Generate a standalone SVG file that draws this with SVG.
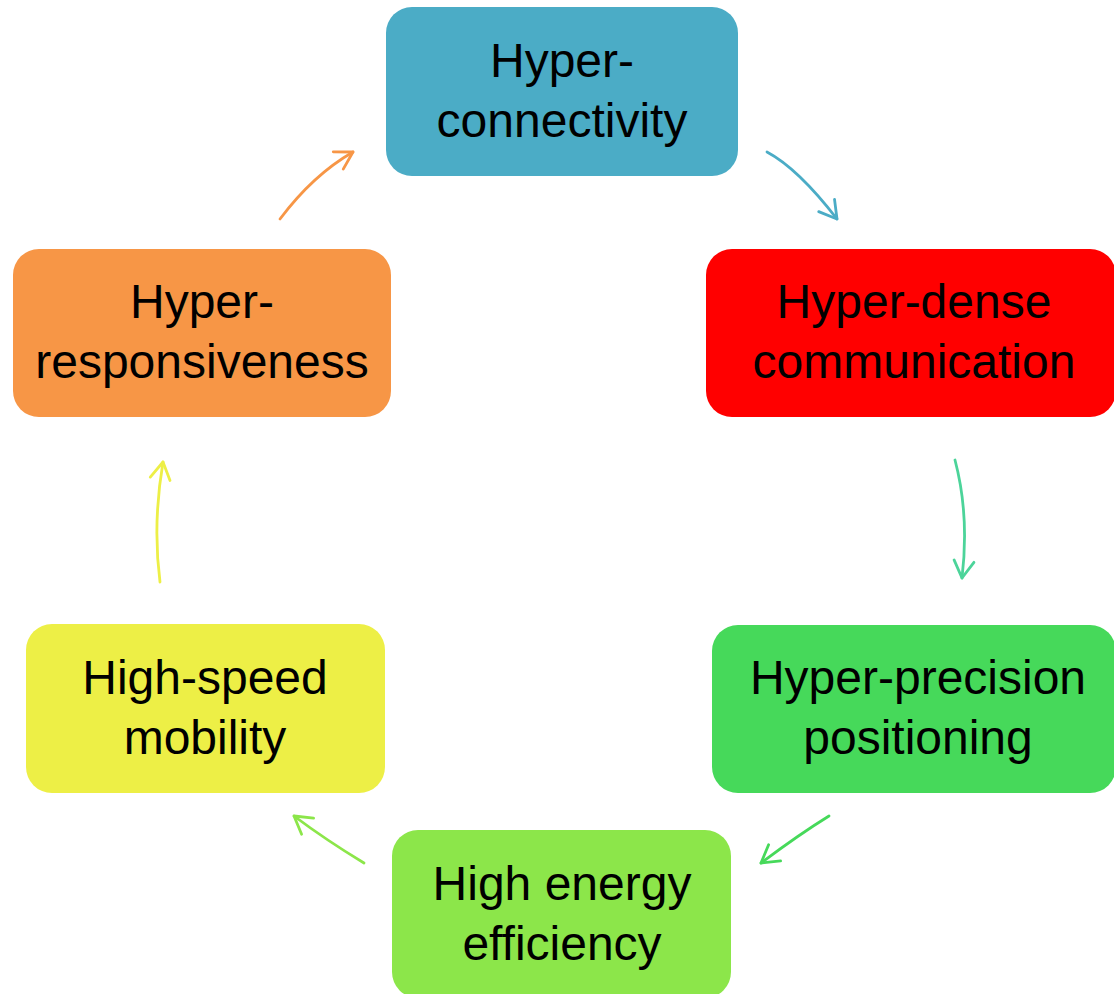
<svg xmlns="http://www.w3.org/2000/svg" width="1114" height="994" viewBox="0 0 1114 994">
<style>
  .box { stroke: none; }
  .lbl { font-family: "Liberation Sans", Arial, sans-serif; font-size: 48px; fill: #000; text-anchor: middle; }
  .conn { fill: none; stroke-width: 2.8; stroke-linecap: round; }
</style>
<defs>
  <marker id="mOrange" markerUnits="userSpaceOnUse" markerWidth="24" markerHeight="24" viewBox="-20 -12 24 24" refX="0" refY="0" orient="auto"><path d="M-17,-10 L0,0 L-17,10" fill="none" stroke="#F79646" stroke-width="2.8" stroke-linecap="round" stroke-linejoin="round"/></marker>
  <marker id="mBlue" markerUnits="userSpaceOnUse" markerWidth="24" markerHeight="24" viewBox="-20 -12 24 24" refX="0" refY="0" orient="auto"><path d="M-17,-10 L0,0 L-17,10" fill="none" stroke="#4BACC6" stroke-width="2.8" stroke-linecap="round" stroke-linejoin="round"/></marker>
  <marker id="mTeal" markerUnits="userSpaceOnUse" markerWidth="24" markerHeight="24" viewBox="-20 -12 24 24" refX="0" refY="0" orient="auto"><path d="M-17,-10 L0,0 L-17,10" fill="none" stroke="#4CD49A" stroke-width="2.8" stroke-linecap="round" stroke-linejoin="round"/></marker>
  <marker id="mGreen" markerUnits="userSpaceOnUse" markerWidth="24" markerHeight="24" viewBox="-20 -12 24 24" refX="0" refY="0" orient="auto"><path d="M-17,-10 L0,0 L-17,10" fill="none" stroke="#46D95A" stroke-width="2.8" stroke-linecap="round" stroke-linejoin="round"/></marker>
  <marker id="mLime" markerUnits="userSpaceOnUse" markerWidth="24" markerHeight="24" viewBox="-20 -12 24 24" refX="0" refY="0" orient="auto"><path d="M-17,-10 L0,0 L-17,10" fill="none" stroke="#8CE64A" stroke-width="2.8" stroke-linecap="round" stroke-linejoin="round"/></marker>
  <marker id="mYellow" markerUnits="userSpaceOnUse" markerWidth="24" markerHeight="24" viewBox="-20 -12 24 24" refX="0" refY="0" orient="auto"><path d="M-17,-10 L0,0 L-17,10" fill="none" stroke="#EDEF46" stroke-width="2.8" stroke-linecap="round" stroke-linejoin="round"/></marker>
</defs>
<rect width="1114" height="994" fill="#FFFFFF"/>
<g id="connectors">
  <path class="conn" d="M280,219 Q313,175 353,152" stroke="#F79646" marker-end="url(#mOrange)"/>
  <path class="conn" d="M767,152 Q798,168.5 837,219" stroke="#4BACC6" marker-end="url(#mBlue)"/>
  <path class="conn" d="M955,460 Q969.5,515 962,578" stroke="#4CD49A" marker-end="url(#mTeal)"/>
  <path class="conn" d="M829,816 Q799,834.5 761,863" stroke="#46D95A" marker-end="url(#mGreen)"/>
  <path class="conn" d="M364,863 Q326,840 294,816" stroke="#8CE64A" marker-end="url(#mLime)"/>
  <path class="conn" d="M160,582 Q152.5,524 163,462" stroke="#EDEF46" marker-end="url(#mYellow)"/>
</g>
<g id="node-hyper-connectivity">
  <rect class="box" x="386" y="7" width="352" height="169" rx="26" fill="#4BACC6"/>
  <text class="lbl" x="562" y="77">Hyper-</text>
  <text class="lbl" x="562" y="137">connectivity</text>
</g>
<g id="node-hyper-dense">
  <rect class="box" x="706" y="249" width="410" height="168" rx="26" fill="#FF0000"/>
  <text class="lbl" x="914" y="318">Hyper-dense</text>
  <text class="lbl" x="914" y="378">communication</text>
</g>
<g id="node-hyper-precision">
  <rect class="box" x="712" y="625" width="404" height="168" rx="26" fill="#46D95A"/>
  <text class="lbl" x="918" y="694">Hyper-precision</text>
  <text class="lbl" x="918" y="754">positioning</text>
</g>
<g id="node-high-energy">
  <rect class="box" x="392" y="830" width="339" height="168" rx="26" fill="#8CE64A"/>
  <text class="lbl" x="562" y="900">High energy</text>
  <text class="lbl" x="562" y="960">efficiency</text>
</g>
<g id="node-high-speed">
  <rect class="box" x="26" y="624" width="359" height="169" rx="26" fill="#EDEF46"/>
  <text class="lbl" x="205" y="694">High-speed</text>
  <text class="lbl" x="205" y="754">mobility</text>
</g>
<g id="node-hyper-responsiveness">
  <rect class="box" x="13" y="249" width="378" height="168" rx="26" fill="#F79646"/>
  <text class="lbl" x="202" y="318">Hyper-</text>
  <text class="lbl" x="202" y="378">responsiveness</text>
</g>
</svg>
